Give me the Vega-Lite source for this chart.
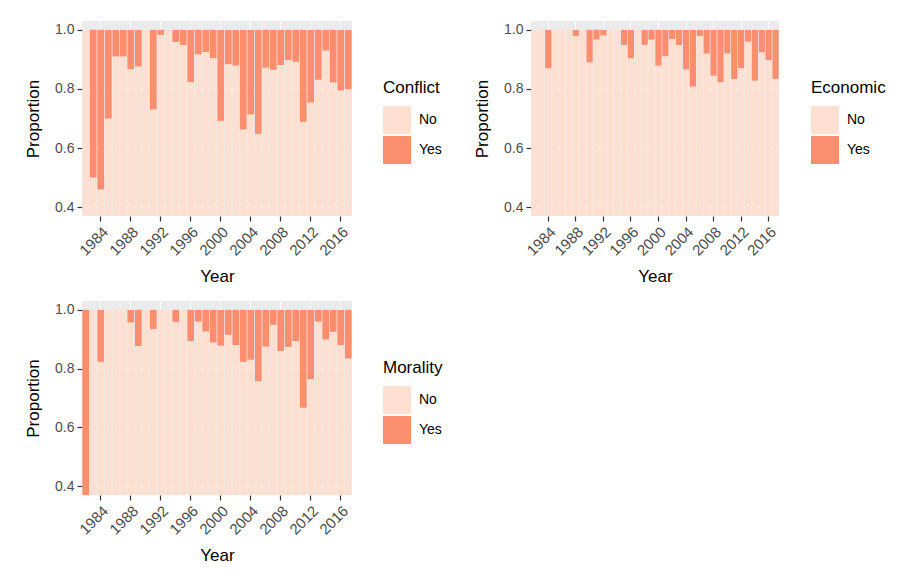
{
  "$schema": "https://vega.github.io/schema/vega-lite/v6.json",
  "padding": {"left": 24, "top": 21, "right": 5, "bottom": 5},
  "background": "white",
  "config": {
    "font": "Liberation Sans",
    "view": {"fill": "#EBEBEB", "stroke": null},
    "axis": {"labelColor": "#4D4D4D", "labelFontSize": 14, "tickColor": "#333333", "tickSize": 5, "tickWidth": 1.2, "domain": false, "titleFontSize": 17, "titleFontWeight": "normal", "titleColor": "black", "gridColor": "white", "gridWidth": 1, "labelPadding": 3},
    "axisX": {"labelFontSize": 15},
    "legend": {"symbolType": "square", "symbolSize": 784, "symbolStrokeWidth": 0, "symbolOpacity": 1, "titleFontSize": 17, "titleFontWeight": "normal", "titleColor": "black", "labelFontSize": 14, "labelColor": "black", "rowPadding": 2, "titlePadding": 9, "labelOffset": 8, "padding": 0, "orient": "none", "legendY": 59}
  },
  "datasets": {
    "conflict": [
      {"year": 1982, "No": 1, "Yes": 0}, {"year": 1983, "No": 0.5, "Yes": 0.5}, {"year": 1984, "No": 0.46, "Yes": 0.54}, {"year": 1985, "No": 0.7, "Yes": 0.3},
      {"year": 1986, "No": 0.91, "Yes": 0.09}, {"year": 1987, "No": 0.91, "Yes": 0.09}, {"year": 1988, "No": 0.867, "Yes": 0.133}, {"year": 1989, "No": 0.876, "Yes": 0.124},
      {"year": 1990, "No": 1, "Yes": 0}, {"year": 1991, "No": 0.731, "Yes": 0.269}, {"year": 1992, "No": 0.983, "Yes": 0.017}, {"year": 1993, "No": 1, "Yes": 0},
      {"year": 1994, "No": 0.959, "Yes": 0.041}, {"year": 1995, "No": 0.949, "Yes": 0.051}, {"year": 1996, "No": 0.823, "Yes": 0.177}, {"year": 1997, "No": 0.917, "Yes": 0.083},
      {"year": 1998, "No": 0.925, "Yes": 0.075}, {"year": 1999, "No": 0.904, "Yes": 0.096}, {"year": 2000, "No": 0.692, "Yes": 0.308}, {"year": 2001, "No": 0.884, "Yes": 0.116},
      {"year": 2002, "No": 0.879, "Yes": 0.121}, {"year": 2003, "No": 0.663, "Yes": 0.337}, {"year": 2004, "No": 0.714, "Yes": 0.286}, {"year": 2005, "No": 0.648, "Yes": 0.352},
      {"year": 2006, "No": 0.872, "Yes": 0.128}, {"year": 2007, "No": 0.865, "Yes": 0.135}, {"year": 2008, "No": 0.881, "Yes": 0.119}, {"year": 2009, "No": 0.898, "Yes": 0.102},
      {"year": 2010, "No": 0.892, "Yes": 0.108}, {"year": 2011, "No": 0.689, "Yes": 0.311}, {"year": 2012, "No": 0.754, "Yes": 0.246}, {"year": 2013, "No": 0.831, "Yes": 0.169},
      {"year": 2014, "No": 0.93, "Yes": 0.07}, {"year": 2015, "No": 0.822, "Yes": 0.178}, {"year": 2016, "No": 0.795, "Yes": 0.205}, {"year": 2017, "No": 0.799, "Yes": 0.201}
    ],
    "economic": [
      {"year": 1982, "No": 1, "Yes": 0}, {"year": 1983, "No": 1, "Yes": 0}, {"year": 1984, "No": 0.87, "Yes": 0.13}, {"year": 1985, "No": 1, "Yes": 0},
      {"year": 1986, "No": 1, "Yes": 0}, {"year": 1987, "No": 1, "Yes": 0}, {"year": 1988, "No": 0.979, "Yes": 0.021}, {"year": 1989, "No": 1, "Yes": 0},
      {"year": 1990, "No": 0.89, "Yes": 0.11}, {"year": 1991, "No": 0.967, "Yes": 0.033}, {"year": 1992, "No": 0.981, "Yes": 0.019}, {"year": 1993, "No": 1, "Yes": 0},
      {"year": 1994, "No": 1, "Yes": 0}, {"year": 1995, "No": 0.949, "Yes": 0.051}, {"year": 1996, "No": 0.904, "Yes": 0.096}, {"year": 1997, "No": 1, "Yes": 0},
      {"year": 1998, "No": 0.949, "Yes": 0.051}, {"year": 1999, "No": 0.967, "Yes": 0.033}, {"year": 2000, "No": 0.879, "Yes": 0.121}, {"year": 2001, "No": 0.911, "Yes": 0.089},
      {"year": 2002, "No": 0.969, "Yes": 0.031}, {"year": 2003, "No": 0.949, "Yes": 0.051}, {"year": 2004, "No": 0.866, "Yes": 0.134}, {"year": 2005, "No": 0.808, "Yes": 0.192},
      {"year": 2006, "No": 0.979, "Yes": 0.021}, {"year": 2007, "No": 0.92, "Yes": 0.08}, {"year": 2008, "No": 0.845, "Yes": 0.155}, {"year": 2009, "No": 0.823, "Yes": 0.177},
      {"year": 2010, "No": 0.92, "Yes": 0.08}, {"year": 2011, "No": 0.834, "Yes": 0.166}, {"year": 2012, "No": 0.87, "Yes": 0.13}, {"year": 2013, "No": 0.96, "Yes": 0.04},
      {"year": 2014, "No": 0.828, "Yes": 0.172}, {"year": 2015, "No": 0.924, "Yes": 0.076}, {"year": 2016, "No": 0.898, "Yes": 0.102}, {"year": 2017, "No": 0.834, "Yes": 0.166}
    ],
    "morality": [
      {"year": 1982, "No": 0, "Yes": 1}, {"year": 1983, "No": 1, "Yes": 0}, {"year": 1984, "No": 0.823, "Yes": 0.177}, {"year": 1985, "No": 1, "Yes": 0},
      {"year": 1986, "No": 1, "Yes": 0}, {"year": 1987, "No": 1, "Yes": 0}, {"year": 1988, "No": 0.957, "Yes": 0.043}, {"year": 1989, "No": 0.877, "Yes": 0.123},
      {"year": 1990, "No": 1, "Yes": 0}, {"year": 1991, "No": 0.935, "Yes": 0.065}, {"year": 1992, "No": 1, "Yes": 0}, {"year": 1993, "No": 1, "Yes": 0},
      {"year": 1994, "No": 0.959, "Yes": 0.041}, {"year": 1995, "No": 1, "Yes": 0}, {"year": 1996, "No": 0.894, "Yes": 0.106}, {"year": 1997, "No": 0.96, "Yes": 0.04},
      {"year": 1998, "No": 0.926, "Yes": 0.074}, {"year": 1999, "No": 0.889, "Yes": 0.111}, {"year": 2000, "No": 0.878, "Yes": 0.122}, {"year": 2001, "No": 0.915, "Yes": 0.085},
      {"year": 2002, "No": 0.88, "Yes": 0.12}, {"year": 2003, "No": 0.823, "Yes": 0.177}, {"year": 2004, "No": 0.83, "Yes": 0.17}, {"year": 2005, "No": 0.757, "Yes": 0.243},
      {"year": 2006, "No": 0.875, "Yes": 0.125}, {"year": 2007, "No": 0.949, "Yes": 0.051}, {"year": 2008, "No": 0.86, "Yes": 0.14}, {"year": 2009, "No": 0.874, "Yes": 0.126},
      {"year": 2010, "No": 0.894, "Yes": 0.106}, {"year": 2011, "No": 0.667, "Yes": 0.333}, {"year": 2012, "No": 0.764, "Yes": 0.236}, {"year": 2013, "No": 0.96, "Yes": 0.04},
      {"year": 2014, "No": 0.899, "Yes": 0.101}, {"year": 2015, "No": 0.925, "Yes": 0.075}, {"year": 2016, "No": 0.88, "Yes": 0.12}, {"year": 2017, "No": 0.835, "Yes": 0.165}
    ]
  },
  "vconcat": [
    {
      "hconcat": [
        {
          "width": 270, "height": 195,
          "data": {"name": "conflict"},
          "transform": [{"fold": ["No", "Yes"], "as": ["response", "proportion"]}],
          "mark": {"type": "bar", "clip": true},
          "encoding": {
            "x": {"field": "year", "type": "ordinal", "scale": {"paddingInner": 0.1, "paddingOuter": 0.05}, "axis": {"values": [1984, 1988, 1992, 1996, 2000, 2004, 2008, 2012, 2016], "labelAngle": -45, "labelAlign": "right", "labelBaseline": "top", "title": "Year", "grid": true, "titlePadding": 10}},
            "y": {"field": "proportion", "type": "quantitative", "stack": "zero", "scale": {"domain": [0.37, 1.03], "nice": false, "zero": false}, "axis": {"values": [0.4, 0.6, 0.8, 1.0], "format": ".1f", "title": "Proportion", "grid": true, "titlePadding": 12}},
            "color": {"field": "response", "type": "nominal", "scale": {"domain": ["No", "Yes"], "range": ["#FEE0D2", "#FB8E6E"]}, "legend": {"title": "Conflict", "legendX": 301}},
            "order": {"field": "response", "sort": "ascending"}
          }
        },
        {
          "width": 248, "height": 195,
          "data": {"name": "economic"},
          "transform": [{"fold": ["No", "Yes"], "as": ["response", "proportion"]}],
          "mark": {"type": "bar", "clip": true},
          "encoding": {
            "x": {"field": "year", "type": "ordinal", "scale": {"paddingInner": 0.1, "paddingOuter": 0.05}, "axis": {"values": [1984, 1988, 1992, 1996, 2000, 2004, 2008, 2012, 2016], "labelAngle": -45, "labelAlign": "right", "labelBaseline": "top", "title": "Year", "grid": true, "titlePadding": 10}},
            "y": {"field": "proportion", "type": "quantitative", "stack": "zero", "scale": {"domain": [0.37, 1.03], "nice": false, "zero": false}, "axis": {"values": [0.4, 0.6, 0.8, 1.0], "format": ".1f", "title": "Proportion", "grid": true, "titlePadding": 12}},
            "color": {"field": "response", "type": "nominal", "scale": {"domain": ["No", "Yes"], "range": ["#FEE0D2", "#FB8E6E"]}, "legend": {"title": "Economic", "legendX": 280}},
            "order": {"field": "response", "sort": "ascending"}
          }
        }
      ],
      "spacing": 31,
      "resolve": {"scale": {"color": "independent"}, "legend": {"color": "independent"}}
    },
    {
      "width": 270, "height": 194,
      "data": {"name": "morality"},
      "transform": [{"fold": ["No", "Yes"], "as": ["response", "proportion"]}],
      "mark": {"type": "bar", "clip": true},
      "encoding": {
        "x": {"field": "year", "type": "ordinal", "scale": {"paddingInner": 0.1, "paddingOuter": 0.05}, "axis": {"values": [1984, 1988, 1992, 1996, 2000, 2004, 2008, 2012, 2016], "labelAngle": -45, "labelAlign": "right", "labelBaseline": "top", "title": "Year", "grid": true, "titlePadding": 10}},
        "y": {"field": "proportion", "type": "quantitative", "stack": "zero", "scale": {"domain": [0.37, 1.03], "nice": false, "zero": false}, "axis": {"values": [0.4, 0.6, 0.8, 1.0], "format": ".1f", "title": "Proportion", "grid": true, "titlePadding": 12}},
        "color": {"field": "response", "type": "nominal", "scale": {"domain": ["No", "Yes"], "range": ["#FEE0D2", "#FB8E6E"]}, "legend": {"title": "Morality", "legendX": 301}},
        "order": {"field": "response", "sort": "ascending"}
      }
    }
  ],
  "spacing": 16,
  "resolve": {"scale": {"color": "independent"}, "legend": {"color": "independent"}}
}
